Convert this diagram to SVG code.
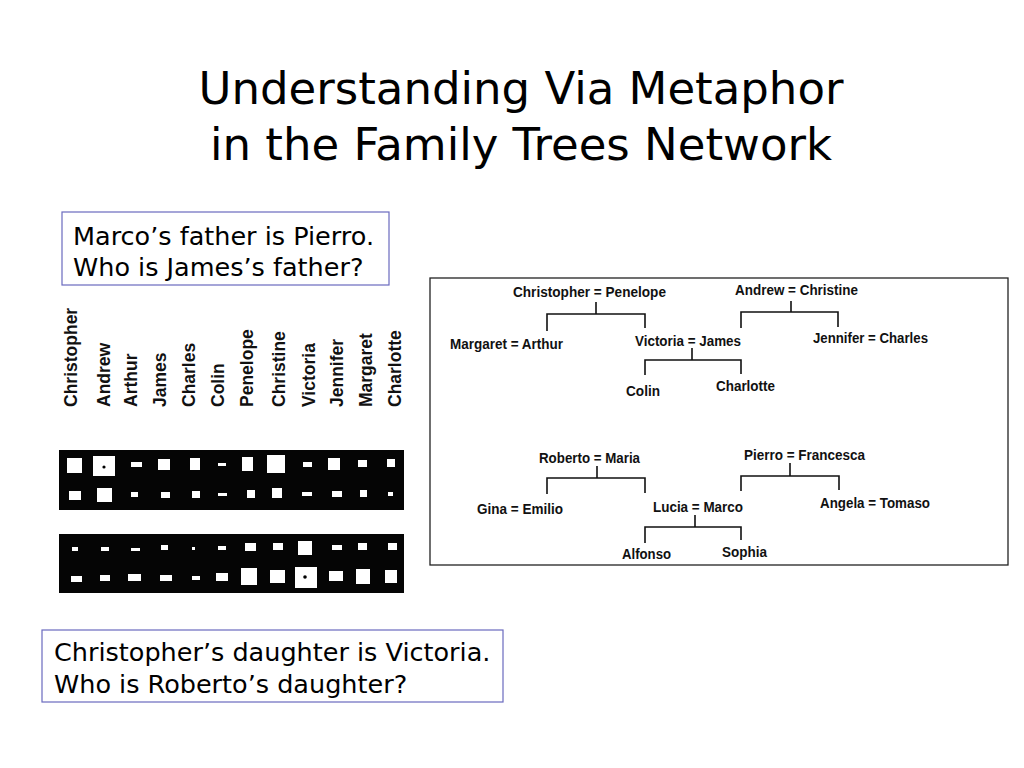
<svg xmlns="http://www.w3.org/2000/svg" width="1024" height="768" viewBox="0 0 1024 768">
<style>
.title{font-family:"DejaVu Sans",Verdana,sans-serif;font-size:45px;fill:#000;text-anchor:middle}
.q{font-family:"DejaVu Sans",Verdana,sans-serif;font-size:25.5px;fill:#000}
.qbox{fill:#fff;stroke:#6a6abf;stroke-width:1.2}
.lbl{font-family:"Liberation Sans",Arial,sans-serif;font-weight:bold;font-size:17.5px;fill:#111}
.t{font-family:"Liberation Sans",Arial,sans-serif;font-weight:bold;font-size:14.5px;fill:#111;text-anchor:middle}
.ln{fill:none;stroke:#111;stroke-width:1.6}
.bar{fill:#050505}
.sq{fill:#fff}
.dot{fill:#000}
</style>
<rect width="1024" height="768" fill="#fff"/>

<g id="title">
<text class="title" x="521" y="104">Understanding Via Metaphor</text>
<text class="title" x="521" y="160">in the Family Trees Network</text>
</g>

<g id="question1">
<rect class="qbox" x="62" y="212" width="327" height="73"/>
<text class="q" x="73" y="245">Marco’s father is Pierro.</text>
<text class="q" x="73" y="276">Who is James’s father?</text>
</g>

<g id="question2">
<rect class="qbox" x="42" y="630" width="461" height="72"/>
<text class="q" x="54" y="661">Christopher’s daughter is Victoria.</text>
<text class="q" x="54" y="693">Who is Roberto’s daughter?</text>
</g>

<g id="unit-labels">
<text class="lbl" transform="translate(77,407) rotate(-90)">Christopher</text>
<text class="lbl" transform="translate(110,407) rotate(-90)">Andrew</text>
<text class="lbl" transform="translate(137,407) rotate(-90)">Arthur</text>
<text class="lbl" transform="translate(166,407) rotate(-90)">James</text>
<text class="lbl" transform="translate(195,407) rotate(-90)">Charles</text>
<text class="lbl" transform="translate(224,407) rotate(-90)">Colin</text>
<text class="lbl" transform="translate(253,407) rotate(-90)">Penelope</text>
<text class="lbl" transform="translate(285,407) rotate(-90)">Christine</text>
<text class="lbl" transform="translate(315,407) rotate(-90)">Victoria</text>
<text class="lbl" transform="translate(343,407) rotate(-90)">Jennifer</text>
<text class="lbl" transform="translate(372,407) rotate(-90)">Margaret</text>
<text class="lbl" transform="translate(401,407) rotate(-90)">Charlotte</text>
</g>

<g id="activity-bar-1">
<rect class="bar" x="59" y="450" width="345" height="60"/>
<rect class="sq" x="67" y="458" width="15" height="15"/>
<rect class="sq" x="93" y="456" width="22" height="20"/>
<circle class="dot" cx="104" cy="467" r="1.6"/>
<rect class="sq" x="131" y="462" width="11" height="5"/>
<rect class="sq" x="158" y="459" width="12" height="11"/>
<rect class="sq" x="190" y="458" width="10" height="12"/>
<rect class="sq" x="218" y="463" width="8" height="3"/>
<rect class="sq" x="242" y="457" width="11" height="14"/>
<rect class="sq" x="267" y="455" width="18" height="18"/>
<rect class="sq" x="303" y="462" width="9" height="5"/>
<rect class="sq" x="328" y="458" width="12" height="12"/>
<rect class="sq" x="358" y="460" width="9" height="7"/>
<rect class="sq" x="387" y="459" width="8" height="8"/>
<rect class="sq" x="69" y="491" width="12" height="9"/>
<rect class="sq" x="97" y="488" width="15" height="14"/>
<rect class="sq" x="131" y="492" width="7" height="5"/>
<rect class="sq" x="161" y="492" width="9" height="6"/>
<rect class="sq" x="192" y="491" width="8" height="7"/>
<rect class="sq" x="218" y="493" width="9" height="3"/>
<rect class="sq" x="247" y="490" width="8" height="8"/>
<rect class="sq" x="272" y="488" width="10" height="10"/>
<rect class="sq" x="302" y="492" width="10" height="4"/>
<rect class="sq" x="332" y="491" width="10" height="6"/>
<rect class="sq" x="360" y="490" width="7" height="7"/>
<rect class="sq" x="388" y="492" width="5" height="4"/>
</g>

<g id="activity-bar-2">
<rect class="bar" x="59" y="534" width="345" height="59"/>
<rect class="sq" x="72" y="547" width="6" height="4"/>
<rect class="sq" x="101" y="547" width="8" height="4"/>
<rect class="sq" x="131" y="548" width="9" height="3"/>
<rect class="sq" x="161" y="545" width="7" height="5"/>
<rect class="sq" x="192" y="547" width="3" height="3"/>
<rect class="sq" x="218" y="546" width="8" height="4"/>
<rect class="sq" x="245" y="543" width="11" height="8"/>
<rect class="sq" x="273" y="543" width="10" height="7"/>
<rect class="sq" x="298" y="541" width="14" height="14"/>
<rect class="sq" x="332" y="545" width="10" height="5"/>
<rect class="sq" x="358" y="543" width="9" height="7"/>
<rect class="sq" x="388" y="543" width="9" height="7"/>
<rect class="sq" x="71" y="576" width="11" height="6"/>
<rect class="sq" x="100" y="575" width="10" height="6"/>
<rect class="sq" x="128" y="574" width="13" height="7"/>
<rect class="sq" x="160" y="575" width="12" height="6"/>
<rect class="sq" x="192" y="576" width="8" height="4"/>
<rect class="sq" x="216" y="573" width="12" height="8"/>
<rect class="sq" x="241" y="568" width="16" height="17"/>
<rect class="sq" x="270" y="570" width="15" height="13"/>
<rect class="sq" x="295" y="567" width="22" height="21"/>
<circle class="dot" cx="305" cy="577" r="1.8"/>
<rect class="sq" x="329" y="571" width="14" height="10"/>
<rect class="sq" x="356" y="569" width="14" height="15"/>
<rect class="sq" x="385" y="570" width="12" height="13"/>
</g>

<g id="tree-frame">
<rect x="430" y="278" width="578" height="287" fill="#fff" stroke="#222" stroke-width="1.3"/>
</g>

<g id="connectors">
<path class="ln" d="M596,302 V314 M547,331 V314 H645 V328"/>
<path class="ln" d="M791,301 V312 M741,328 V312 H838 V327"/>
<path class="ln" d="M692,348 V360 M645,375 V360 H741 V374"/>
<path class="ln" d="M597,466 V478 M547,494 V478 H645 V493"/>
<path class="ln" d="M790,463 V476 M741,491 V476 H839 V490"/>
<path class="ln" d="M695,515 V527 M645,543 V527 H741 V540"/>
</g>

<g id="node-christopher-penelope"><text class="t" x="589.5" y="296.5" textLength="153" lengthAdjust="spacingAndGlyphs">Christopher = Penelope</text></g>
<g id="node-andrew-christine"><text class="t" x="796.5" y="295" textLength="123" lengthAdjust="spacingAndGlyphs">Andrew = Christine</text></g>
<g id="node-margaret-arthur"><text class="t" x="506.5" y="348.5" textLength="113" lengthAdjust="spacingAndGlyphs">Margaret = Arthur</text></g>
<g id="node-victoria-james"><text class="t" x="688" y="345.5" textLength="106" lengthAdjust="spacingAndGlyphs">Victoria = James</text></g>
<g id="node-jennifer-charles"><text class="t" x="870.5" y="342.5" textLength="115" lengthAdjust="spacingAndGlyphs">Jennifer = Charles</text></g>
<g id="node-colin"><text class="t" x="643" y="395.5" textLength="34" lengthAdjust="spacingAndGlyphs">Colin</text></g>
<g id="node-charlotte"><text class="t" x="745.5" y="390.5" textLength="59" lengthAdjust="spacingAndGlyphs">Charlotte</text></g>
<g id="node-roberto-maria"><text class="t" x="589.5" y="462.5" textLength="101" lengthAdjust="spacingAndGlyphs">Roberto = Maria</text></g>
<g id="node-pierro-francesca"><text class="t" x="804.5" y="459.5" textLength="121" lengthAdjust="spacingAndGlyphs">Pierro = Francesca</text></g>
<g id="node-gina-emilio"><text class="t" x="520" y="513.5" textLength="86" lengthAdjust="spacingAndGlyphs">Gina = Emilio</text></g>
<g id="node-lucia-marco"><text class="t" x="698" y="511.5" textLength="90" lengthAdjust="spacingAndGlyphs">Lucia = Marco</text></g>
<g id="node-angela-tomaso"><text class="t" x="875" y="507.5" textLength="110" lengthAdjust="spacingAndGlyphs">Angela = Tomaso</text></g>
<g id="node-alfonso"><text class="t" x="646.5" y="558.5" textLength="49" lengthAdjust="spacingAndGlyphs">Alfonso</text></g>
<g id="node-sophia"><text class="t" x="744.5" y="556.5" textLength="45" lengthAdjust="spacingAndGlyphs">Sophia</text></g>
</svg>
